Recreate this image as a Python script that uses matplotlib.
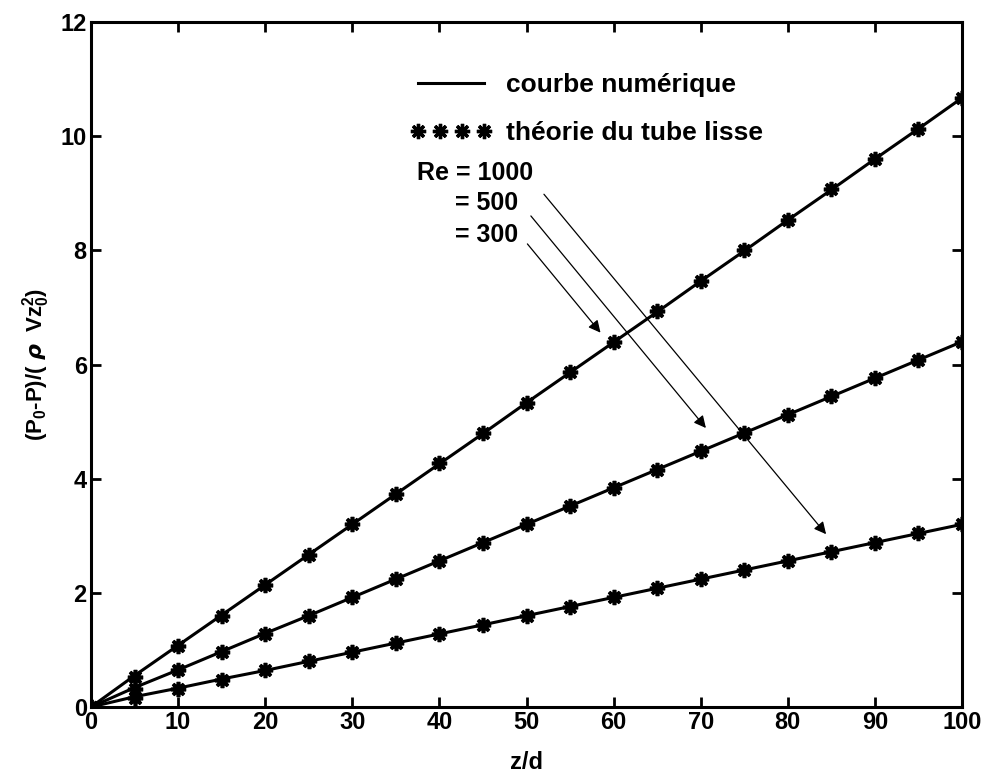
import matplotlib
matplotlib.use('Agg')
from matplotlib import pyplot as plt
from matplotlib.lines import Line2D

plt.rcParams['font.family'] = ['Liberation Sans Narrow', 'Liberation Sans', 'DejaVu Sans']
plt.rcParams['font.weight'] = 'bold'
plt.rcParams['mathtext.fontset'] = 'custom'
plt.rcParams['mathtext.bf'] = 'Liberation Sans:bold'

# abscisse z/d
z = [0, 5, 10, 15, 20, 25, 30, 35, 40, 45, 50, 55, 60, 65, 70, 75, 80, 85, 90, 95, 100]

# theorie du tube lisse
th_300 = [0, 0.533, 1.067, 1.6, 2.133, 2.667, 3.2, 3.733, 4.267, 4.8, 5.333,
          5.867, 6.4, 6.933, 7.467, 8.0, 8.533, 9.067, 9.6, 10.133, 10.667]
th_500 = [0, 0.32, 0.64, 0.96, 1.28, 1.6, 1.92, 2.24, 2.56, 2.88, 3.2,
          3.52, 3.84, 4.16, 4.48, 4.8, 5.12, 5.44, 5.76, 6.08, 6.4]
th_1000 = [0, 0.16, 0.32, 0.48, 0.64, 0.8, 0.96, 1.12, 1.28, 1.44, 1.6,
           1.76, 1.92, 2.08, 2.24, 2.4, 2.56, 2.72, 2.88, 3.04, 3.2]

# courbes numeriques
num_300 = [0, 0.55, 1.08, 1.61, 2.14, 2.67, 3.2, 3.73, 4.26, 4.79, 5.33,
           5.86, 6.39, 6.92, 7.46, 7.99, 8.53, 9.06, 9.6, 10.13, 10.67]
num_500 = [0, 0.34, 0.65, 0.97, 1.29, 1.6, 1.92, 2.24, 2.56, 2.88, 3.2,
           3.52, 3.84, 4.16, 4.48, 4.8, 5.12, 5.44, 5.76, 6.08, 6.4]
num_1000 = [0, 0.18, 0.33, 0.49, 0.64, 0.8, 0.96, 1.12, 1.28, 1.44, 1.6,
            1.76, 1.92, 2.08, 2.24, 2.4, 2.56, 2.72, 2.88, 3.04, 3.2]

fig = plt.figure(figsize=(9.83, 7.76), dpi=100)
ax = fig.add_axes([91 / 983, 69 / 776, 871 / 983, 685 / 776])

star = (8, 2, 0)
for num, th in [(num_300, th_300), (num_500, th_500), (num_1000, th_1000)]:
    ax.plot(z, num, color='k', lw=2.2)
    ax.plot(z, th, ls='none', marker=star, ms=11, mew=2.6, color='k')

ax.set_xlim(0, 100)
ax.set_ylim(0, 12)
ax.set_xticks(range(0, 101, 10))
ax.set_yticks(range(0, 13, 2))
ax.tick_params(direction='in', top=True, right=True, length=7, width=2,
               labelsize=17, pad=3)
for s in ax.spines.values():
    s.set_linewidth(2.2)

ax.set_xlabel('z/d', fontsize=17, fontweight='bold', labelpad=12)
ax.set_ylabel(r'(P$_\mathbf{0}$-P)/( $\rho$  Vz$_\mathbf{0}^\mathbf{2}$)', fontsize=16,
              fontweight='bold', labelpad=6, family='Liberation Sans')

handles = [Line2D([], [], color='k', lw=2.2),
           Line2D([], [], ls='none', marker=star, ms=11, mew=2.4, color='k')]
ax.legend(handles, ['courbe numérique', 'théorie du tube lisse'],
          loc='upper left', bbox_to_anchor=(0.366, 0.925), frameon=False,
          borderpad=0, borderaxespad=0,
          numpoints=4, handlelength=3.1, handletextpad=0.55, labelspacing=0.9,
          prop={'size': 19, 'weight': 'bold', 'family': 'Liberation Sans'})

ax.text(37.4, 9.36, 'Re = 1000', fontsize=18, fontweight='bold', va='center')
ax.text(41.8, 8.83, '= 500', fontsize=18, fontweight='bold', va='center')
ax.text(41.8, 8.27, '= 300', fontsize=18, fontweight='bold', va='center')

arrow = dict(arrowstyle='-|>', color='k', lw=0.9, mutation_scale=18)
ax.annotate('', xy=(84.6, 2.99), xytext=(51.8, 9.02), arrowprops=arrow)
ax.annotate('', xy=(70.8, 4.85), xytext=(50.3, 8.64), arrowprops=arrow)
ax.annotate('', xy=(58.7, 6.52), xytext=(49.9, 8.15), arrowprops=arrow)

fig.savefig('out.png', dpi=100)
